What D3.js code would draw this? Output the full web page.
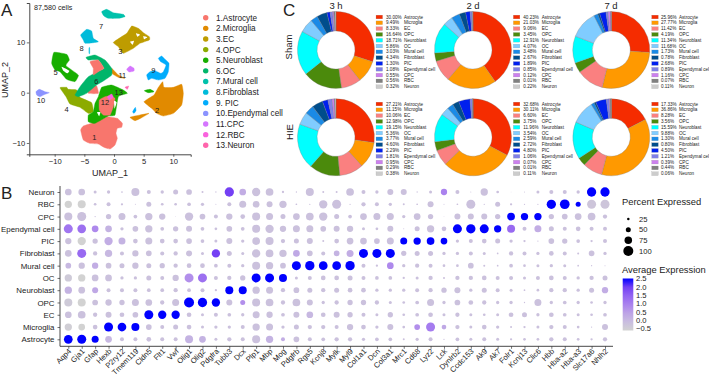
<!DOCTYPE html>
<html><head><meta charset="utf-8">
<script src="https://cdn.jsdelivr.net/npm/d3@7"></script>
<style>html,body{margin:0;padding:0;background:#fff}svg{display:block}text{font-family:"Liberation Sans",Arial,sans-serif;fill:#222}</style>
</head><body><svg id="c" width="709" height="380"></svg>
<script>
// ---------- Panel A ----------
const cellTypes=["Astrocyte","Microglia","EC","OPC","Neuroblast","OC","Mural cell","Fibroblast","PIC","Ependymal cell","CPC","RBC","Neuron"];
const umapLegend=["1.Astrocyte","2.Microglia","3.EC","4.OPC","5.Neuroblast","6.OC","7.Mural cell","8.Fibroblast","9. PIC","10.Ependymal cell","11.CPC","12.RBC","13.Neuron"];
const umapColors=["#F8766D","#E18A00","#BE9C00","#8CAB00","#17AE00","#00B56A","#00C1AB","#00BBDA","#00ACFC","#8B93FF","#D575FE","#F962DD","#FF65AC"];
// cluster outlines in UMAP units: [cluster index, [[u,v],...]]
const umapBlobs=[
[0,[[-5.62,-7.42],[-5.17,-6.63],[-3.77,-6.10],[-2.08,-5.30],[-1.12,-4.77],[0.56,-5.10],[1.41,-6.10],[1.29,-6.89],[0.56,-7.09],[0.34,-8.08],[0.56,-9.08],[0.17,-10.40],[-0.67,-11.20],[-1.69,-10.87],[-2.64,-10.21],[-4.05,-10.07],[-5.17,-9.41]]],
[1,[[5.06,-1.79],[6.75,-0.46],[7.48,1.06],[8.21,2.19],[8.43,1.06],[10.01,1.06],[11.41,1.66],[11.69,-0.13],[11.41,-2.45],[10.01,-4.11],[8.32,-4.64],[7.20,-4.11],[6.35,-3.11]]],
[1,[[2.70,-4.90],[4.38,-4.44],[5.90,-4.11],[4.67,-4.97],[3.54,-5.57]]],
[1,[[-0.39,4.84],[0.73,3.51],[1.85,2.85],[0.73,3.05],[-0.39,3.84]]],
[2,[[-0.11,10.01],[2.14,11.80],[2.98,13.25],[4.10,12.79],[4.95,11.93],[5.96,11.13],[5.96,10.47],[4.38,9.81],[3.26,8.81],[1.57,7.82],[0.73,9.14]]],
[3,[[-9.11,0.99],[-7.98,1.06],[-7.70,0.66],[-6.30,0.53],[-5.73,-0.93],[-3.77,-1.99],[-3.49,-3.78],[-4.33,-4.11],[-5.73,-2.92],[-7.42,-2.25],[-8.09,-0.80]]],
[4,[[-10.51,5.83],[-10.12,8.02],[-7.98,7.62],[-7.53,6.49],[-8.09,5.37],[-6.01,3.51],[-6.58,2.19],[-7.98,2.65],[-9.11,4.17],[-9.95,4.51]]],
[4,[[-2.64,-0.80],[-2.08,1.06],[-0.39,1.52],[1.57,0.53],[2.25,-0.13],[0.73,-0.80],[0.17,-4.44],[-0.96,-4.64],[-3.20,-6.10],[-4.33,-5.77],[-4.33,-4.44],[-3.49,-3.78],[-3.20,-2.12]]],
[4,[[5.12,0.40],[6.07,0.66],[6.75,0.20],[5.79,0.00]]],
[0,[[-2.47,-1.46],[-1.52,-0.80],[-0.67,-0.66],[0.17,-1.13],[-0.11,-2.78],[-0.67,-4.44],[-1.80,-4.44],[-2.47,-3.45]]],
[11,[[-1.12,-0.80],[-0.39,-0.27],[-0.11,-0.93],[-0.79,-1.46]]],
[0,[[-4.33,0.86],[-3.77,1.86],[-2.92,1.33],[-2.64,-0.13],[-4.33,-0.13]]],
[5,[[-4.72,7.02],[-3.20,7.49],[-1.52,6.49],[-0.39,4.84],[-0.39,3.51],[-1.52,2.52],[-2.92,1.52],[-4.61,-0.13],[-6.01,-0.80],[-6.58,-0.46],[-5.73,1.19],[-4.33,3.18],[-2.36,4.37],[-1.69,4.84],[-2.64,6.49],[-4.33,6.49]]],
[0,[[-4.05,6.16],[-2.64,6.49],[-1.69,4.84],[-2.64,4.17],[-3.49,3.51],[-3.49,4.84]]],
[6,[[-2.08,16.10],[-1.24,16.57],[-0.11,15.90],[1.57,15.57],[1.85,15.11],[0.73,14.78],[-0.96,14.78],[-1.69,15.24]]],
[7,[[-5.62,11.46],[-4.61,12.59],[-3.77,12.26],[-3.49,10.80],[-2.64,10.14],[-3.49,9.94],[-4.89,9.81],[-5.17,10.47]]],
[7,[[-4.22,8.95],[-4.10,8.95],[-4.10,7.8],[-4.22,7.8]]],
[8,[[5.51,3.51],[6.07,4.17],[6.91,4.37],[7.87,3.84],[8.32,4.17],[8.77,5.50],[7.87,6.16],[7.48,6.83],[8.04,7.29],[8.60,6.63],[9.27,5.83],[9.16,4.17],[8.60,2.85],[7.48,2.52],[6.35,2.85],[5.79,2.52]]],
[8,[[3.15,-3.78],[3.60,-2.92],[3.71,-3.58],[3.37,-4.11]]],
[9,[[-13.15,0.20],[-12.59,0.66],[-11.64,0.20],[-10.90,0],[-11.64,-0.33],[-12.48,-0.80],[-13.03,-0.46]]],
[10,[[2.14,4.64],[2.70,5.30],[3.37,4.84],[3.37,4.31],[2.53,4.11]]],
[12,[[1.85,1.06],[2.47,1.33],[2.25,0.66]]]
];
// white gaps inside the clusters, in UMAP units
const umapGaps=[
[[3.71,11.80],[4.38,11.53],[3.94,11.13]],
[[4.95,11.27],[5.62,11.0],[5.06,10.6]],
[[2.70,10.14],[3.37,10.34],[3.15,9.54]],
[[-8.83,5.17],[-7.53,4.37],[-7.87,3.84],[-8.54,4.37]],
[[-2.85,-3.9],[-2.3,-3.9],[-2.5,-4.7]],
[[0.0,-1.6],[0.45,-1.9],[0.1,-3.2]]
];
const umapLabels=[["1",-3.32,-8.95],["2",7.25,-3.45],["3",1.07,8.15],["4",-7.98,-3.25],["5",-9.84,4.04],["6",-2.98,2.19],["7",-2.19,13.12],["8",-5.45,8.81],["9",6.63,4.51],["10",-12.31,-1.52],["11",1.40,3.45],["12",-1.52,-1.86],["13",0.79,0.07]];
const umapXTicks=[-10,-5,0,5,10], umapYTicks=[-10,0,10];

// ---------- Panel C ----------
const donutColors=["#f52c00","#ff9900","#fa8080","#4b8a0c","#00ffff","#80ccff","#1a8ae6","#004d8c","#0020ee","#8080e6","#cc80ee","#808080","#cccccc"];
const sham3h=[30.00,9.49,8.33,16.64,18.71,5.86,3.03,4.34,1.30,1.08,0.55,0.56,0.32];
const sham2d=[40.23,21.03,9.06,3.45,12.91,4.07,3.48,2.67,1.89,0.85,0.12,0.01,0.22];
const sham7d=[25.96,27.77,11.42,4.19,11.34,11.68,1.73,0.78,2.68,0.89,1.16,0.07,0.11];
const hie3h=[27.21,11.15,10.06,12.98,19.15,5.36,3.77,4.60,2.29,1.81,0.95,0.29,0.38];
const hie2d=[32.68,30.11,6.60,3.75,11.96,3.54,2.59,2.72,4.80,1.06,0.07,0.01,0.11];
const hie7d=[17.33,36.86,8.28,3.56,15.59,9.88,1.30,0.80,4.50,1.21,0.39,0.44,0.06];
const timeTitles=["3 h","2 d","7 d"];

// ---------- Panel B ----------
const genes=["Aqp4","Gja1","Gfap","Hexb","P2ry12","Tmem119","Cldn5","Flt1","Vwf","Olig1","Olig2","Pdgfra","Tubb3","Dcx","Plp1","Mbp","Mog","Pdgfrb","Rgs5","Kcnj8","Mylk","Myl9","Col1a1","Dcn","Col3a1","Mrc1","Cd68","Lyz2","Lck","Dynlrb2","Ccdc153","Ak9","Ak7","Folr1","Kcnj13","Clic6","Hbb","Hba-a2","Hba-a3","Slc17a6","Nhlh2"];
const pctAstrocyte=[87,90,70,67,40,40,47,40,40,80,67,30,43,40,80,73,40,57,40,37,43,43,33,37,37,20,33,40,13,37,30,40,30,23,27,27,43,40,27,23,43];
const pctMicroglia=[73,67,47,90,87,80,57,40,50,47,30,33,33,40,73,70,33,50,43,43,40,63,47,33,60,27,57,90,47,43,30,47,33,20,23,30,43,40,27,13,60];
const pctEC=[67,77,43,60,47,57,90,83,83,47,30,40,37,33,70,63,37,60,67,47,60,53,40,30,53,27,37,47,30,43,30,27,30,47,50,33,47,37,30,27,37];
const pctOPC=[80,80,57,63,53,70,67,43,70,100,93,83,60,50,80,77,43,77,60,33,43,53,53,43,30,27,37,70,33,57,47,43,33,33,13,70,33,37,33,27,33];
const pctNeuroblast=[73,67,60,40,40,40,37,37,43,37,40,23,80,80,73,70,43,57,50,43,50,47,47,33,33,33,40,43,53,60,33,50,40,30,17,27,43,43,33,50,63];
const pctOC=[73,73,67,67,33,33,50,40,63,90,90,40,43,53,90,90,80,30,40,47,47,50,40,37,37,23,30,43,20,43,43,47,40,40,30,40,47,40,33,43,50];
const pctMural=[57,63,63,57,50,63,50,53,43,47,47,37,40,33,80,73,57,90,93,87,87,93,40,23,67,33,43,40,27,27,57,20,17,37,27,30,33,30,17,13,10];
const pctFibroblast=[67,90,43,73,40,63,57,40,43,60,30,83,50,30,83,77,73,67,57,40,57,70,90,90,90,53,50,50,33,33,40,30,17,43,40,33,47,40,20,57,33];
const pctPIC=[63,83,53,83,70,47,70,47,47,57,37,30,60,33,77,80,43,50,60,20,47,67,67,57,70,70,73,77,67,33,40,47,50,33,23,13,57,53,37,23,40];
const pctEpendymal=[90,87,67,67,33,57,73,37,53,60,37,27,57,37,80,83,63,70,70,57,60,63,30,27,60,10,50,73,47,90,93,90,73,80,40,70,50,40,47,40,40];
const pctCPC=[80,90,13,53,70,37,73,63,7,83,57,40,63,47,80,70,50,67,77,83,50,37,67,70,70,33,67,53,7,60,60,60,53,77,73,73,53,57,67,77,43];
const pctRBC=[73,80,27,40,23,10,50,27,27,37,33,10,40,70,67,60,73,17,13,83,90,13,43,40,33,20,17,60,10,17,90,13,50,23,13,13,93,97,50,90,90];
const pctNeuron=[67,67,30,33,17,80,40,33,50,57,20,13,93,67,83,77,23,13,80,20,20,77,40,33,60,60,13,30,63,40,10,73,27,7,10,30,40,40,33,93,93];
const dotRows=["Astrocyte","Microglia","EC","OPC","Neuroblast","OC","Mural cell","Fibroblast","PIC","Ependymal cell","CPC","RBC","Neuron"];
const dotPct=[pctAstrocyte,pctMicroglia,pctEC,pctOPC,pctNeuroblast,pctOC,pctMural,pctFibroblast,pctPIC,pctEpendymal,pctCPC,pctRBC,pctNeuron];
// average expression; every unlisted dot reads about baseExpr
const baseExpr=-0.1;
const exprReadings={
 "Astrocyte":{Aqp4:2.5,Gja1:2.5,Gfap:2.5,Hexb:0.1,Olig1:0.2,Olig2:0.2,Mbp:0.2,Mog:0.3},
 "Microglia":{Aqp4:-0.4,Gja1:-0.5,Hexb:2.5,P2ry12:2.5,Tmem119:2.5,Cd68:0.8,Lyz2:1.1,Lck:0.4},
 "EC":{Cldn5:2.5,Flt1:2.5,Vwf:2.5,Rgs5:0.1},
 "OPC":{Aqp4:-0.3,Gja1:-0.5,Olig1:2.5,Olig2:2.5,Pdgfra:2.5,Dcx:0.8},
 "Neuroblast":{Aqp4:0.2,Gfap:0.4,Tubb3:2.5,Dcx:2.5,Nhlh2:0.3},
 "OC":{Aqp4:-0.3,Gja1:-0.5,Olig1:0.8,Olig2:1.3,Plp1:2.5,Mbp:2.5,Mog:2.5},
 "Mural cell":{Aqp4:0.1,Gfap:0.3,Pdgfrb:2.5,Rgs5:2.5,Kcnj8:2.5,Mylk:2.5,Myl9:2.5,Col3a1:0.9},
 "Fibroblast":{Gja1:1.4,Hexb:0.1,Pdgfra:2.0,Pdgfrb:0.4,Mylk:0.2,Myl9:0.3,Col1a1:2.5,Dcn:2.5,Col3a1:2.5},
 "PIC":{Gja1:-0.5,Hexb:0.3,P2ry12:0.2,Mrc1:2.5,Cd68:2.5,Lyz2:2.5,Lck:2.5},
 "Ependymal cell":{Aqp4:1.2,Gja1:1.3,Gfap:0.9,Hexb:0.2,Dynlrb2:2.5,Ccdc153:2.5,Ak9:2.5,Ak7:2.5,Folr1:1.4,Clic6:0.3},
 "CPC":{Folr1:2.5,Kcnj13:2.5,Clic6:2.5},
 "RBC":{Aqp4:-0.5,Gja1:-0.5,Hbb:2.5,"Hba-a2":2.5,"Hba-a3":2.5,Slc17a6:-0.2,Nhlh2:-0.2},
 "Neuron":{Tubb3:2.0,Dcx:0.3,Lck:1.0,Slc17a6:2.5,Nhlh2:2.5}
};
const sizeLegend=[25,50,75,100];
const exprTicks=[2.5,2,1.5,1,0.5,0,-0.5];

const svg=d3.select("#c");
const minus=s=>String(s).replace("-","\u2212");
function panelLetter(t,x,y){svg.append("text").attr("x",x).attr("y",y).attr("font-size",17).attr("fill","#111").text(t);}
panelLetter("A",1,16);panelLetter("B",1,199);panelLetter("C",283,16);

// ---- A ----
const ux=d3.scaleLinear().domain([-14.28,12.93]).range([29.3,190.7]);
const uy=d3.scaleLinear().domain([-12.25,17.83]).range([154.3,3]);
const blob=d3.line().x(d=>ux(d[0])).y(d=>uy(d[1])).curve(d3.curveCardinalClosed.tension(0.6));
const gA=svg.append("g");
gA.selectAll("path.blob").data(umapBlobs).join("path").attr("class","blob")
  .attr("d",d=>blob(d[1])).attr("fill",d=>umapColors[d[0]]).attr("stroke",d=>umapColors[d[0]]).attr("stroke-width",0.4);
gA.selectAll("path.gap").data(umapGaps).join("path").attr("class","gap").attr("d",d=>blob(d)).attr("fill","#fff");
gA.selectAll("text.cl").data(umapLabels).join("text").attr("class","cl")
  .attr("x",d=>ux(d[1])).attr("y",d=>uy(d[2])+2.6).attr("text-anchor","middle").attr("font-size",7.5).text(d=>d[0]);
const axX=gA.append("g").attr("transform","translate(0,154.3)").call(d3.axisBottom(ux).tickValues(umapXTicks).tickSize(2.5).tickPadding(1.5).tickFormat(minus));
const axY=gA.append("g").attr("transform","translate(29.3,0)").call(d3.axisLeft(uy).tickValues(umapYTicks).tickSize(2.5).tickPadding(1.5).tickFormat(minus));
[axX,axY].forEach(a=>{a.selectAll("path").attr("stroke","#333").attr("stroke-width",0.9);a.selectAll("line").attr("stroke","#333").attr("stroke-width",0.7);a.selectAll("text").attr("font-size",7.6).attr("font-family",'"Liberation Sans"').attr("fill","#222");});
gA.append("text").attr("x",110).attr("y",176).attr("text-anchor","middle").attr("font-size",9).text("UMAP_1");
gA.append("text").attr("transform","translate(8,80) rotate(-90)").attr("text-anchor","middle").attr("font-size",9).text("UMAP_2");
gA.append("text").attr("x",34).attr("y",10).attr("font-size",7.2).text("87,580 cells");
const ly=d3.scalePoint().domain(umapLegend).range([17.7,145.3]);
gA.selectAll("circle.lg").data(umapLegend).join("circle").attr("class","lg").attr("cx",205.7).attr("cy",d=>ly(d)).attr("r",2.7).attr("fill",(d,i)=>umapColors[i]);
gA.selectAll("text.lg").data(umapLegend).join("text").attr("class","lg").attr("x",216).attr("y",d=>ly(d)+2.9).attr("font-size",8.2).text(d=>d);

// ---- C ----
const arc=d3.arc();
const pie=d3.pie().sort(null).value(d=>d);
const donuts=[
 {v:sham3h,cx:336,cy:50,sw:376,px:386,nx:404,top:17},
 {v:sham2d,cx:473,cy:50,sw:513.3,px:523.3,nx:541.7,top:17},
 {v:sham7d,cx:611.3,cy:50,sw:651.7,px:661,nx:679,top:17},
 {v:hie3h,cx:336,cy:137.3,sw:376,px:386,nx:404,top:104},
 {v:hie2d,cx:473,cy:137.3,sw:513.3,px:523.3,nx:541.7,top:104},
 {v:hie7d,cx:611.3,cy:137.3,sw:651.7,px:661,nx:679,top:104}];
const rowY=d3.scalePoint().domain(cellTypes).range([0,69.7]);
donuts.forEach(d=>{
  const g=svg.append("g").attr("transform",`translate(${d.cx},${d.cy})`);
  g.selectAll("path").data(pie(d.v)).join("path")
    .attr("d",a=>arc({...a,innerRadius:19,outerRadius:38.5}))
    .attr("fill",(a,i)=>donutColors[i]).attr("stroke","#777").attr("stroke-width",0.3);
  const l=svg.append("g").attr("transform",`translate(0,${d.top})`);
  l.selectAll("rect").data(cellTypes).join("rect").attr("x",d.sw).attr("y",c=>rowY(c)-1.9).attr("width",6.6).attr("height",3.8)
    .attr("fill",(c,i)=>donutColors[i]).attr("stroke","#999").attr("stroke-width",0.2);
  l.selectAll("text.p").data(d.v).join("text").attr("class","p").attr("x",d.px).attr("y",(v,i)=>rowY(cellTypes[i])+1.6).attr("font-size",4.6).text(v=>v.toFixed(2)+"%");
  l.selectAll("text.n").data(cellTypes).join("text").attr("class","n").attr("x",d.nx).attr("y",c=>rowY(c)+1.6).attr("font-size",4.6).text(c=>c);
});
timeTitles.forEach((t,i)=>svg.append("text").attr("x",[336,473,611][i]).attr("y",8.5).attr("text-anchor","middle").attr("font-size",9.5).text(t));
svg.append("text").attr("transform","translate(292,47) rotate(-90)").attr("text-anchor","middle").attr("font-size",9.5).text("Sham");
svg.append("text").attr("transform","translate(293,132) rotate(-90)").attr("text-anchor","middle").attr("font-size",9.5).text("HIE");

// ---- B ----
const bx=d3.scalePoint().domain(genes).range([68.3,605]);
const by=d3.scalePoint().domain(dotRows).range([339.3,192]);
const rScale=d3.scaleLinear().domain([0,100]).range([0,5]);
const col=d3.scaleLinear().domain([-0.5,0,0.5,1,1.5,2,2.5]).range(["#d2d2d2","#c9bde0","#bda3e6","#aa82ee","#9364f2","#7440f4","#0000ff"]);
const dots=[];
dotRows.forEach((r,ri)=>genes.forEach((g,gi)=>{const e=exprReadings[r][g];dots.push({r,g,p:dotPct[ri][gi],e:e===undefined?baseExpr:e});}));
svg.append("g").selectAll("circle").data(dots).join("circle")
  .attr("cx",d=>bx(d.g)).attr("cy",d=>by(d.r)).attr("r",d=>rScale(d.p)).attr("fill",d=>col(d.e));
const bAxX=svg.append("g").attr("transform","translate(0,346.3)").call(d3.axisBottom(bx).tickSize(2.5).tickSizeOuter(0));
const bAxY=svg.append("g").attr("transform","translate(60,0)").call(d3.axisLeft(by).tickSize(2.5).tickSizeOuter(0));
[bAxX,bAxY].forEach(a=>{a.selectAll("line").attr("stroke","#333").attr("stroke-width",0.7);a.selectAll("text").attr("font-family",'"Liberation Sans"').attr("fill","#222").attr("font-size",7.9);});
bAxX.select("path").attr("d","M60,0H613").attr("stroke","#333").attr("stroke-width",0.9);
bAxY.select("path").attr("d","M0,186V346.3").attr("stroke","#333").attr("stroke-width",0.9);
bAxX.selectAll("text").attr("text-anchor","end").attr("x",0).attr("y",0).attr("dy",0)
  .attr("transform","translate(3,5.5) rotate(-45)").attr("font-size",7.6);

// legends of B
svg.append("text").attr("x",622).attr("y",205).attr("font-size",9.4).text("Percent Expressed");
const sy=d3.scalePoint().domain(sizeLegend).range([219,251]);
svg.append("g").selectAll("circle").data(sizeLegend).join("circle").attr("cx",628.3).attr("cy",d=>sy(d)).attr("r",d=>rScale(d)).attr("fill","#000");
svg.append("g").selectAll("text").data(sizeLegend).join("text").attr("x",639).attr("y",d=>sy(d)+2.7).attr("font-size",7.6).text(d=>d);
svg.append("text").attr("x",622).attr("y",273).attr("font-size",9.4).text("Average Expression");
const ey=d3.scaleLinear().domain([2.5,-0.5]).range([278.5,328.5]);
const defs=svg.append("defs").append("linearGradient").attr("id","eg").attr("x1",0).attr("x2",0).attr("y1",0).attr("y2",1);
defs.selectAll("stop").data(exprTicks).join("stop").attr("offset",(d,i)=>i/6).attr("stop-color",d=>col(d));
svg.append("rect").attr("x",622.7).attr("y",ey(2.5)).attr("width",10.6).attr("height",ey(-0.5)-ey(2.5)+2).attr("fill","url(#eg)");
svg.append("g").selectAll("text").data(exprTicks).join("text").attr("x",636).attr("y",d=>ey(d)+2.7).attr("font-size",7.6).text(d=>minus(d.toFixed(1)));
</script></body></html>
